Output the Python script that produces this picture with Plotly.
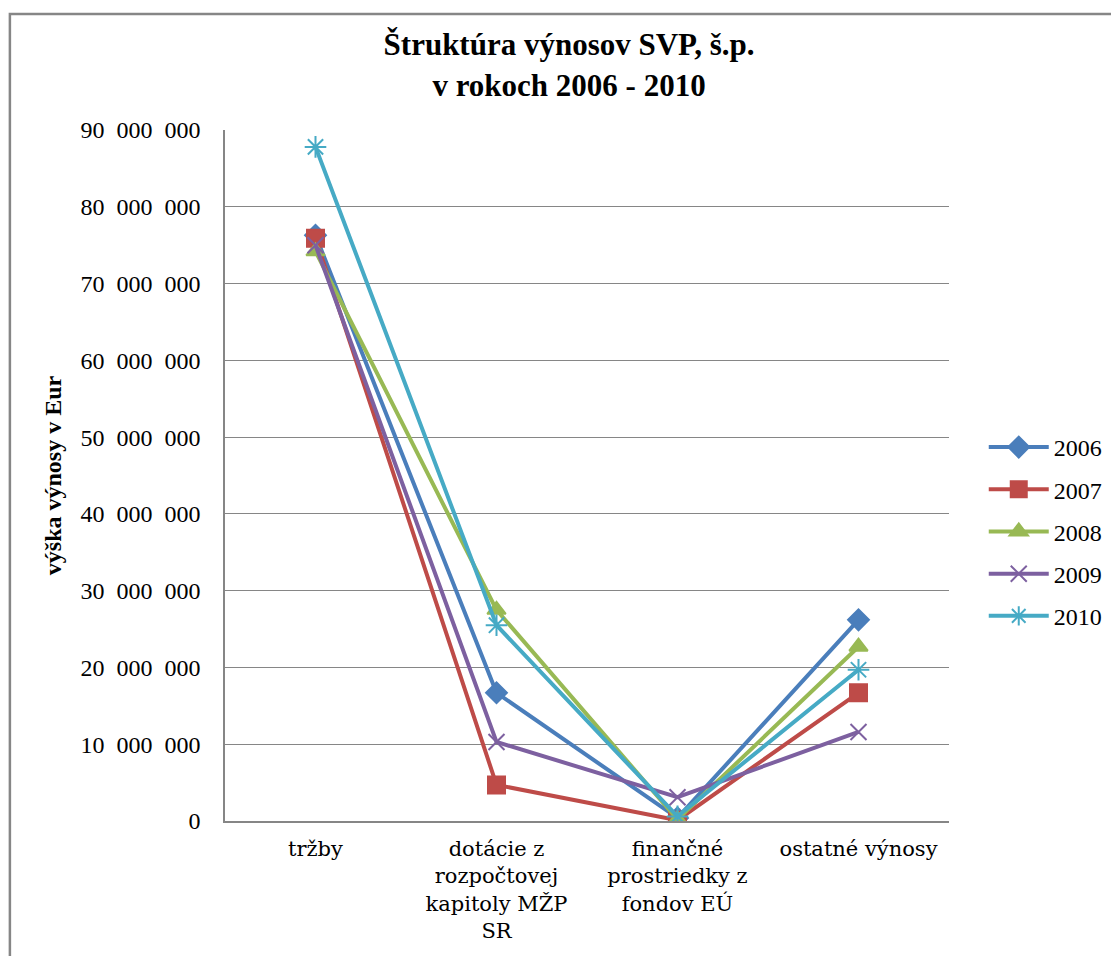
import plotly.graph_objects as go

categories = ["tržby", "dotácie z<br>rozpočtovej<br>kapitoly MŽP<br>SR",
              "finančné<br>prostriedky z<br>fondov EÚ", "ostatné výnosy"]
years = ["2006", "2007", "2008", "2009", "2010"]
v2006 = [76300000, 16700000, 400000, 26200000]
v2007 = [75900000, 4700000, 100000, 16700000]
v2008 = [74200000, 27500000, 200000, 22700000]
v2009 = [75000000, 10300000, 3100000, 11600000]
v2010 = [87800000, 25500000, 600000, 19700000]
series = [v2006, v2007, v2008, v2009, v2010]
colors = ["#4A7EBB", "#BE4B48", "#98B954", "#7D60A0", "#46AAC5"]
symbols = ["diamond", "square", "triangle-up", "x-thin", "asterisk"]
msizes = [16, 17, 16, 16, 18]
yticks = list(range(0, 90000001, 10000000))

fig = go.Figure()
for name, vals, c, s, ms in zip(years, series, colors, symbols, msizes):
    fig.add_trace(go.Scatter(
        x=categories, y=vals, name=name, legendgroup=name, mode="lines+markers",
        line=dict(color=c, width=4),
        marker=dict(symbol=s, size=ms, color=c, line=dict(color=c, width=2)),
    ))

font = "Liberation Serif"
font_x = "DejaVu Serif"
W, H = 1111, 948
L, T, PW, PH = 217, 122, 727, 691
fig.update_layout(
    width=W, height=H,
    margin=dict(l=L, r=W - L - PW, t=T, b=H - T - PH),
    paper_bgcolor="white", plot_bgcolor="white",
    separators=".\u2002",
    font=dict(family=font, size=23, color="black"),
    title=dict(text="<b>Štruktúra výnosov SVP, š.p.<br>v rokoch 2006 - 2010</b>",
               x=0.505, xanchor="center", y=0.95, yanchor="middle",
               font=dict(family=font, size=31, color="black")),
    showlegend=True,
    legend=dict(x=1.048, y=0.419, xanchor="left", yanchor="middle",
                font=dict(family=font, size=24, color="black"), tracegroupgap=8,
                itemwidth=60),
    xaxis=dict(range=[-0.5, 3.5], showline=True, linecolor="#868686", linewidth=1.5,
               automargin=False, showgrid=False, ticks="", ticklabelstandoff=8,
               tickfont=dict(family=font_x, size=21, color="black")),
    yaxis=dict(range=[0, 90000000], tickvals=yticks, tickformat=",d", automargin=False,
               showline=True, linecolor="#868686", linewidth=1.5,
               showgrid=True, gridcolor="#868686", gridwidth=1.2,
               ticks="", zeroline=False, ticklabelstandoff=18,
               tickfont=dict(family=font, size=24, color="black"),
               title=dict(text="<b>výška výnosy v Eur</b>", standoff=12,
                          font=dict(family=font, size=24, color="black"))),
    shapes=[dict(type="rect", xref="paper", yref="paper",
                 x0=(1 - L) / PW, x1=1.5, y0=-0.5, y1=(T + PH - 6) / PH,
                 line=dict(color="#868686", width=2.5), fillcolor="rgba(0,0,0,0)",
                 layer="below")],
)

fig.write_html("out.html")
